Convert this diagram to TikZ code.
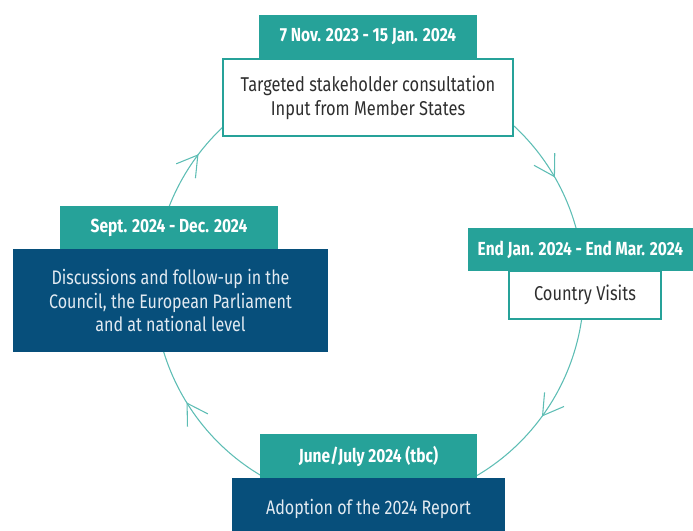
\documentclass[tikz,border=0pt]{standalone}
\usepackage{fontspec}
\setmainfont{Fira Sans}[FakeStretch=0.82]
\usetikzlibrary{arrows.meta,decorations.markings}
\definecolor{teal1}{HTML}{26A299}
\definecolor{navy1}{HTML}{074F7B}
\definecolor{ring}{HTML}{5DBDB4}
\definecolor{ink}{HTML}{2E2E2E}
\definecolor{pale}{HTML}{E2EAF1}
\begin{document}
\begin{tikzpicture}[x=0.75pt,y=0.75pt,
  hdr/.style={fill=teal1, text=white, font=\fontsize{14.2}{16}\selectfont\bfseries, inner sep=0pt, align=center},
  whitebox/.style={fill=white, draw=teal1, line width=1.1pt, text=ink, font=\fontsize{15}{18}\selectfont, inner sep=0pt, align=center},
  darkbox/.style={fill=navy1, text=pale, font=\fontsize{14.7}{17.6}\selectfont, inner sep=0pt, align=center},
  flow/.style={draw=ring, line width=0.8pt},
  chevron/.style={draw=ring, line width=0.8pt, line join=miter}
]
\useasboundingbox (0,0) rectangle (693,531);
\coordinate (c) at (369,244);
\path[flow, postaction={decorate}, decoration={markings,
    mark=at position 0.085 with {\draw[chevron] (15pt,9pt) -- (0,0) -- (15pt,-9pt);},
    mark=at position 0.396 with {\draw[chevron] (15pt,9pt) -- (0,0) -- (15pt,-9pt);},
    mark=at position 0.59 with {\draw[chevron] (15pt,9pt) -- (0,0) -- (15pt,-9pt);},
    mark=at position 0.899 with {\draw[chevron] (15pt,9pt) -- (0,0) -- (15pt,-9pt);}}]
  (c) ellipse [x radius=161.25pt, y radius=163.5pt];

% top
\node[hdr, minimum width=163.5pt, minimum height=33pt] (h1) at (368,494) {7 Nov. 2023 - 15 Jan. 2024};
\node[whitebox, minimum width=217.5pt, minimum height=57.75pt] (b1) at (368,433.5) {Targeted stakeholder consultation\\Input from Member States};
% right
\node[hdr, minimum width=168.75pt, minimum height=32.25pt] (h2) at (580.5,281.5) {End Jan. 2024 - End Mar. 2024};
\node[whitebox, minimum width=114pt, minimum height=36pt] (b2) at (585,236) {Country Visits};
% bottom
\node[hdr, minimum width=162.75pt, minimum height=33pt] (h3) at (368.5,75) {June/July 2024 (tbc)};
\node[darkbox, minimum width=204.75pt, minimum height=46.5pt] (b3) at (368.5,22) {Adoption of the 2024 Report};
% left
\node[hdr, minimum width=163.5pt, minimum height=32.25pt] (h4) at (169,303.5) {Sept. 2024 - Dec. 2024};
\node[darkbox, minimum width=236.25pt, minimum height=77.25pt] (b4) at (170.5,230.5) {Discussions and follow-up in the\\Council, the European Parliament\\and at national level};
\end{tikzpicture}
\end{document}
